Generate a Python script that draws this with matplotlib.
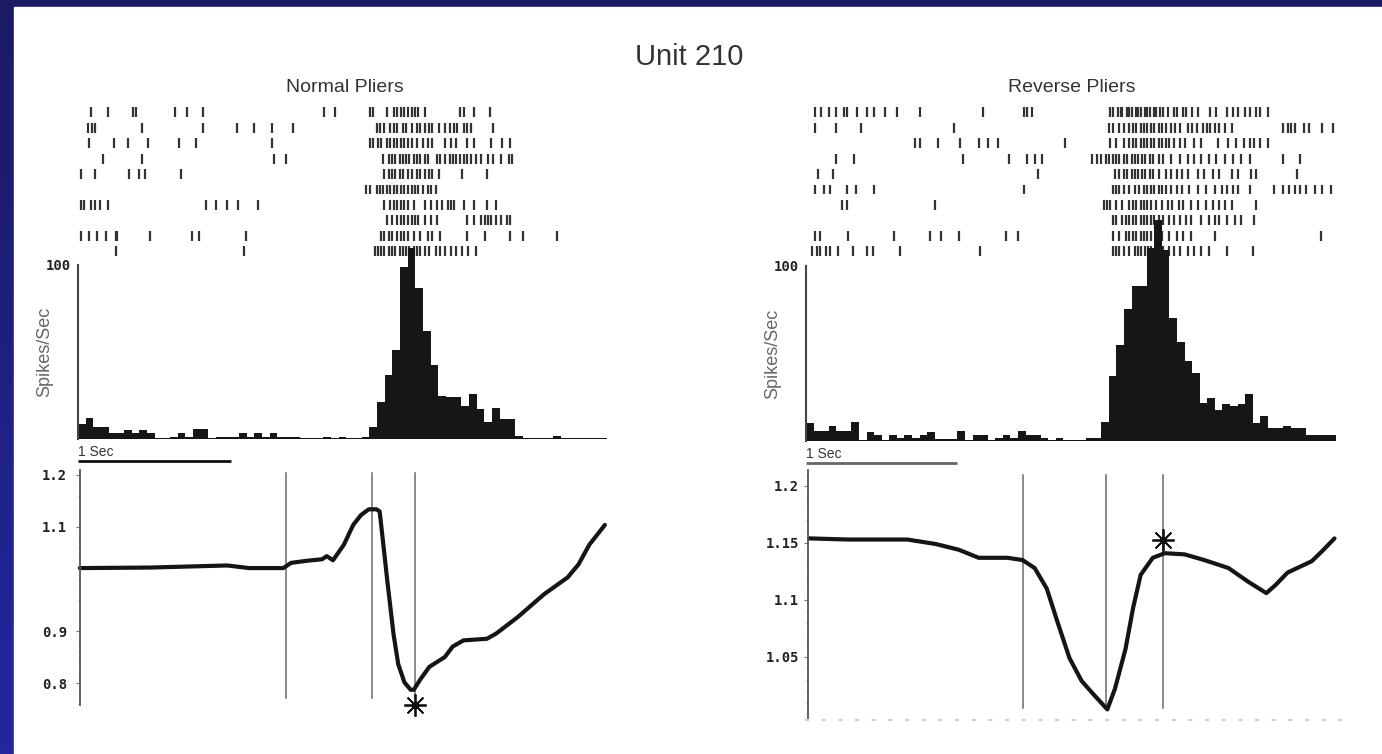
import numpy as np
import matplotlib
matplotlib.use("Agg")
import matplotlib.pyplot as plt
from matplotlib.colors import LinearSegmentedColormap
from matplotlib.patches import Rectangle
from matplotlib.ticker import MultipleLocator

W, H = 1382, 754

# ---- data -------------------------------------------------------------
# spike times (s) per trial, row 1 = top
raster_normal = [
    [0.12, 0.23, 0.39, 0.41, 0.66, 0.74, 0.84, 1.62, 1.69, 1.92, 1.94, 2.03, 2.07, 2.09, 2.12,
     2.14, 2.16, 2.19, 2.21, 2.23, 2.27, 2.50, 2.52, 2.59, 2.69],
    [0.10, 0.13, 0.15, 0.45, 0.84, 1.06, 1.17, 1.29, 1.42, 1.96, 1.98, 2.01, 2.05, 2.07, 2.09,
     2.13, 2.15, 2.19, 2.22, 2.24, 2.27, 2.30, 2.32, 2.36, 2.40, 2.43, 2.46, 2.48, 2.52, 2.54,
     2.57, 2.71],
    [0.11, 0.27, 0.36, 0.49, 0.69, 0.80, 1.29, 1.92, 1.94, 1.97, 1.99, 2.03, 2.05, 2.07, 2.09,
     2.12, 2.14, 2.16, 2.19, 2.22, 2.26, 2.29, 2.32, 2.40, 2.44, 2.47, 2.54, 2.59, 2.70, 2.77,
     2.82],
    [0.20, 0.45, 1.30, 1.38, 2.00, 2.04, 2.06, 2.08, 2.11, 2.13, 2.15, 2.17, 2.20, 2.22, 2.24,
     2.27, 2.29, 2.35, 2.37, 2.40, 2.43, 2.45, 2.47, 2.50, 2.52, 2.54, 2.57, 2.60, 2.63, 2.68,
     2.71, 2.76, 2.81, 2.83],
    [0.06, 0.15, 0.37, 0.43, 0.47, 0.70, 2.01, 2.04, 2.06, 2.08, 2.11, 2.13, 2.16, 2.19, 2.22,
     2.24, 2.27, 2.30, 2.32, 2.36, 2.51, 2.67],
    [1.89, 1.92, 1.96, 1.98, 2.00, 2.03, 2.05, 2.07, 2.09, 2.12, 2.14, 2.16, 2.19, 2.21, 2.23,
     2.26, 2.29, 2.31, 2.34],
    [0.06, 0.08, 0.12, 0.15, 0.18, 0.23, 0.86, 0.93, 1.00, 1.07, 1.20, 2.01, 2.05, 2.07, 2.09,
     2.12, 2.14, 2.16, 2.20, 2.27, 2.31, 2.35, 2.38, 2.42, 2.44, 2.46, 2.52, 2.59, 2.67, 2.73],
    [2.03, 2.06, 2.09, 2.12, 2.14, 2.16, 2.19, 2.21, 2.23, 2.27, 2.31, 2.35, 2.54, 2.59, 2.63,
     2.66, 2.68, 2.70, 2.73, 2.76, 2.80, 2.82],
    [0.06, 0.11, 0.16, 0.22, 0.28, 0.29, 0.50, 0.77, 0.82, 1.12, 1.99, 2.01, 2.04, 2.06, 2.09,
     2.12, 2.14, 2.16, 2.20, 2.24, 2.29, 2.32, 2.37, 2.54, 2.66, 2.82, 2.90, 3.12],
    [0.28, 1.11, 1.95, 1.97, 1.99, 2.01, 2.04, 2.06, 2.08, 2.11, 2.13, 2.15, 2.17, 2.20, 2.22,
     2.24, 2.27, 2.30, 2.34, 2.37, 2.40, 2.44, 2.47, 2.51, 2.55, 2.60],
]

raster_reverse = [
    [0.06, 0.10, 0.15, 0.20, 0.25, 0.27, 0.34, 0.40, 0.45, 0.52, 0.60, 0.75, 1.17, 1.44, 1.46,
     1.49, 2.01, 2.03, 2.06, 2.08, 2.09, 2.12, 2.13, 2.15, 2.18, 2.19, 2.21, 2.24, 2.25, 2.27,
     2.30, 2.31, 2.34, 2.36, 2.39, 2.43, 2.45, 2.49, 2.51, 2.55, 2.59, 2.67, 2.71, 2.78, 2.82,
     2.85, 2.90, 2.93, 2.97, 3.00, 3.05],
    [0.06, 0.20, 0.36, 0.98, 2.00, 2.03, 2.07, 2.10, 2.13, 2.16, 2.18, 2.21, 2.23, 2.25, 2.28,
     2.30, 2.33, 2.35, 2.38, 2.41, 2.44, 2.47, 2.52, 2.55, 2.58, 2.62, 2.65, 2.67, 2.70, 2.73,
     2.77, 2.81, 3.15, 3.18, 3.20, 3.23, 3.29, 3.32, 3.41, 3.48],
    [0.72, 0.75, 0.87, 1.02, 1.14, 1.20, 1.27, 1.71, 2.01, 2.05, 2.10, 2.13, 2.16, 2.18, 2.21,
     2.23, 2.25, 2.28, 2.30, 2.33, 2.35, 2.38, 2.40, 2.43, 2.47, 2.50, 2.56, 2.61, 2.72, 2.79,
     2.84, 2.89, 2.93, 2.96, 3.00, 3.05],
    [0.20, 0.32, 1.04, 1.34, 1.46, 1.51, 1.56, 1.89, 1.92, 1.95, 1.98, 2.00, 2.03, 2.05, 2.07,
     2.10, 2.12, 2.15, 2.17, 2.19, 2.22, 2.24, 2.27, 2.29, 2.33, 2.36, 2.41, 2.47, 2.52, 2.56,
     2.61, 2.66, 2.71, 2.77, 2.82, 2.87, 2.93, 3.15, 3.26],
    [0.08, 0.18, 1.53, 2.04, 2.07, 2.10, 2.12, 2.15, 2.17, 2.19, 2.22, 2.24, 2.27, 2.29, 2.33,
     2.38, 2.41, 2.45, 2.48, 2.52, 2.59, 2.63, 2.69, 2.73, 2.81, 2.85, 2.94, 2.97, 3.24],
    [0.06, 0.12, 0.16, 0.27, 0.33, 0.45, 1.44, 2.03, 2.05, 2.07, 2.10, 2.13, 2.17, 2.20, 2.23,
     2.25, 2.28, 2.30, 2.33, 2.35, 2.38, 2.41, 2.45, 2.48, 2.53, 2.59, 2.64, 2.70, 2.75, 2.78,
     2.82, 2.85, 2.93, 3.09, 3.15, 3.19, 3.23, 3.26, 3.30, 3.36, 3.41, 3.47],
    [0.24, 0.27, 0.85, 1.97, 1.99, 2.01, 2.05, 2.09, 2.13, 2.16, 2.18, 2.21, 2.23, 2.25, 2.28,
     2.31, 2.35, 2.39, 2.42, 2.46, 2.49, 2.54, 2.59, 2.64, 2.69, 2.73, 2.77, 2.81, 2.97],
    [2.03, 2.05, 2.09, 2.11, 2.13, 2.16, 2.18, 2.21, 2.23, 2.25, 2.28, 2.30, 2.33, 2.36, 2.40,
     2.43, 2.47, 2.51, 2.54, 2.61, 2.66, 2.70, 2.73, 2.78, 2.83, 2.87, 2.96],
    [0.06, 0.09, 0.28, 0.58, 0.82, 0.89, 1.01, 1.32, 1.40, 2.03, 2.07, 2.11, 2.13, 2.16, 2.18,
     2.21, 2.23, 2.25, 2.28, 2.31, 2.35, 2.40, 2.45, 2.49, 2.54, 2.70, 3.40],
    [0.04, 0.07, 0.09, 0.13, 0.16, 0.21, 0.31, 0.40, 0.44, 0.62, 1.15, 2.03, 2.05, 2.07, 2.10,
     2.13, 2.17, 2.19, 2.21, 2.24, 2.26, 2.28, 2.32, 2.36, 2.40, 2.43, 2.47, 2.52, 2.56, 2.61,
     2.66, 2.78, 2.95],
]

# firing rate (spikes/s), 50 ms bins
bin_width = 0.05
rate_normal = [8.6, 12.3, 7.1, 7.1, 3.3, 3.3, 5.2, 3.3, 5.2, 3.3,
               0.5, 0.5, 1.3, 3.3, 1.3, 5.6, 5.6, 0.5, 1.3, 1.3,
               1.3, 3.3, 1.3, 3.3, 1.0, 3.3, 1.3, 1.3, 1.3, 0.5,
               0.5, 0.5, 1.3, 0.5, 1.3, 0.5, 0.5, 1.3, 6.7, 21,
               37, 51, 99, 110, 87, 62, 42.5, 25, 24, 24,
               19, 26, 17, 10, 17.6, 11.3, 11.3, 1.7, 0.5, 0.5,
               0.5, 0.5, 1.7, 0.5, 0.5, 0.5, 0.5, 0.5, 0.5]
rate_reverse = [10.5, 5.7, 5.7, 8.6, 5.7, 5.7, 10.9, 0.6, 5.1, 3.2,
                0.6, 3.6, 1.9, 3.6, 1.9, 3.6, 5.1, 1.0, 1.0, 1.0,
                5.5, 0.6, 3.6, 3.6, 0.6, 1.9, 3.6, 1.9, 5.5, 3.6,
                3.6, 1.9, 0.6, 1.9, 0.6, 0.6, 0.6, 1.7, 1.7, 10.9,
                37, 54.7, 75.6, 88.6, 88.6, 110, 126, 109, 70.5, 56.6,
                45.7, 39, 21.5, 24.6, 17.5, 21.3, 20, 21.3, 26.7, 10.5,
                14.3, 7.6, 7.6, 8.6, 7.6, 7.6, 3.4, 3.4, 3.4, 3.4]

# aperture trace
trace_normal_t = [0.05, 0.50, 1.00, 1.14, 1.36, 1.41, 1.51, 1.61, 1.64, 1.68, 1.75, 1.81,
                  1.86, 1.91, 1.96, 1.98, 1.99, 2.03, 2.07, 2.10, 2.14, 2.18, 2.20, 2.24,
                  2.30, 2.40, 2.45, 2.52, 2.67, 2.73, 2.87, 3.04, 3.19, 3.26, 3.33, 3.43]
trace_normal_v = [1.021, 1.022, 1.026, 1.021, 1.021, 1.031, 1.035, 1.038, 1.044, 1.036, 1.066, 1.104,
                  1.123, 1.134, 1.134, 1.130, 1.104, 0.995, 0.893, 0.836, 0.801, 0.787, 0.787, 0.806,
                  0.831, 0.850, 0.870, 0.882, 0.885, 0.895, 0.927, 0.971, 1.003, 1.028, 1.066, 1.104]
trace_reverse_t = [0.02, 0.28, 0.67, 0.86, 1.01, 1.14, 1.33, 1.43, 1.51, 1.59, 1.66, 1.74,
                   1.82, 1.90, 1.99, 2.04, 2.11, 2.16, 2.21, 2.29, 2.37, 2.50, 2.63, 2.79,
                   2.92, 3.04, 3.10, 3.18, 3.26, 3.34, 3.41, 3.49]
trace_reverse_v = [1.154, 1.153, 1.153, 1.149, 1.144, 1.137, 1.137, 1.135, 1.128, 1.110, 1.081, 1.049,
                   1.029, 1.017, 1.004, 1.022, 1.057, 1.093, 1.122, 1.137, 1.141, 1.140, 1.135, 1.128,
                   1.116, 1.106, 1.113, 1.124, 1.129, 1.134, 1.143, 1.154]

events_normal = [1.38, 1.93, 2.21]
events_reverse = [1.43, 1.98, 2.36]
star_normal = (2.21, 0.758)
star_reverse = (2.36, 1.153)

ticks_normal = [0.8, 0.9, 1.1, 1.2]
ticks_reverse = [1.05, 1.1, 1.15, 1.2]
ticklabels_reverse = ["1.05", "1.1", "1.15", "1.2"]

# ---- figure -----------------------------------------------------------
fig = plt.figure(figsize=(W / 100, H / 100), dpi=100)


def px_axes(x0, y0, x1, y1):
    return fig.add_axes([x0 / W, 1 - y1 / H, (x1 - x0) / W, (y1 - y0) / H])


def fig_text(x, y, s, **kw):
    fig.text(x / W, 1 - y / H, s, **kw)


# blue frame + white slide
bg = fig.add_axes([0, 0, 1, 1])
blues = LinearSegmentedColormap.from_list("frame", ["#1b1a62", "#2227a0"])
bg.imshow(np.linspace(0, 1, 64).reshape(-1, 1), aspect="auto", cmap=blues,
          extent=[0, 1, 0, 1], origin="upper")
bg.add_patch(Rectangle((14 / W, 0), 1 - 14 / W, 1 - 7 / H, color="white"))
bg.set_xlim(0, 1)
bg.set_ylim(0, 1)
bg.axis("off")

SANS = "Liberation Sans"
MONO = "DejaVu Sans Mono"

fig_text(689, 57, "Unit 210", ha="center", va="center", fontsize=21, family=SANS, color="#333333")


def raster_panel(x0, x1, xmax, trials):
    ax = px_axes(x0, 104.5, x1, 259)
    ax.eventplot(trials, lineoffsets=np.arange(1, len(trials) + 1), linelengths=0.64,
                 linewidths=1.6, colors="#333333")
    ax.set_xlim(0, xmax)
    ax.set_ylim(len(trials) + 0.5, 0.5)
    ax.axis("off")
    return ax


def hist_panel(x0, x1, y0, y1, rates, bar_color, label_x):
    ax = px_axes(x0, y0, x1, y1)
    ax.patch.set_alpha(0)
    n = len(rates)
    left_edges = np.arange(n) * bin_width
    ax.bar(left_edges, rates, width=bin_width, align="edge", color="#161616",
           edgecolor="none", clip_on=False)
    ax.set_xlim(0, n * bin_width)
    ax.set_ylim(0, 100)
    for s in ["top", "right", "bottom"]:
        ax.spines[s].set_visible(False)
    ax.spines["left"].set_color("#444444")
    ax.spines["left"].set_linewidth(1.5)
    ax.set_xticks([])
    ax.set_yticks([100])
    ax.set_yticklabels(["100"], family=MONO, fontweight="bold", fontsize=10, color="#222222")
    ax.tick_params(axis="y", length=0, pad=5)
    ax.set_ylabel("Spikes/Sec", family=SANS, fontsize=13, color="#666666", labelpad=2)
    ax.yaxis.set_label_coords(label_x, 0.5)
    # 1 sec scale bar
    ax.plot([0, 1.0], [-12.5, -12.5], color=bar_color, lw=2, clip_on=False, solid_capstyle="butt")
    ax.text(0.0, -3.5, "1 Sec", ha="left", va="top", family=SANS, fontsize=10, color="#333333")
    return ax


def trace_panel(x0, x1, y0, y1, xmax, ylim, t, v, events, ev_span, star, ticks, labels,
                minor, pad, spine_t, dotted_base):
    ax = px_axes(x0, y0, x1, y1)
    ax.patch.set_alpha(0)
    for e in events:
        ax.axvline(e, ymin=ev_span[0], ymax=ev_span[1], color="#6a6a6a", lw=1.1)
    ax.plot(t, v, color="#151515", lw=3.0, solid_joinstyle="round", solid_capstyle="round")
    ax.plot(*star, marker=(8, 2, 0), ms=16, mew=1.3, color="#111111", clip_on=False)
    ax.plot(*star, marker="o", ms=4.5, color="#111111", clip_on=False)
    ax.set_xlim(0, xmax)
    ax.set_ylim(*ylim)
    ax.spines["top"].set_visible(False)
    ax.spines["right"].set_visible(False)
    ax.spines["left"].set_position(("data", spine_t))
    ax.spines["left"].set_color("#555555")
    ax.spines["left"].set_linewidth(1.3)
    if dotted_base:
        ax.spines["bottom"].set_linestyle((0, (1, 7)))
        ax.spines["bottom"].set_color("#d0d0d0")
        ax.spines["bottom"].set_linewidth(1.5)
    else:
        ax.spines["bottom"].set_visible(False)
    ax.set_xticks([])
    ax.set_yticks(ticks)
    ax.set_yticklabels(labels, family=MONO, fontweight="bold", fontsize=10, color="#222222")
    ax.yaxis.set_minor_locator(MultipleLocator(minor))
    ax.tick_params(axis="y", which="major", direction="out", length=3, width=0.8,
                   color="#777777", pad=pad)
    ax.tick_params(axis="y", which="minor", direction="out", length=1.5, width=0.6,
                   color="#aaaaaa")
    return ax


# ---- Normal Pliers (left) -----------------------------------------------
fig_text(345, 87, "Normal Pliers", ha="center", va="center", fontsize=14, family=SANS, color="#333333")
raster_panel(72, 608, 3.45, raster_normal)
hist_panel(78, 607, 265, 439, rate_normal, "#111111", -0.047)
trace_panel(72, 608, 470, 705, 3.45, (0.7577, 1.2096), trace_normal_t, trace_normal_v,
            events_normal, (0.03, 0.987), star_normal, ticks_normal,
            ["0.8", "0.9", "1.1", "1.2"], 0.02, 6, 0.05, False)

# ---- Reverse Pliers (right) ---------------------------------------------
fig_text(1072, 87, "Reverse Pliers", ha="center", va="center", fontsize=14, family=SANS, color="#333333")
raster_panel(806, 1336, 3.5, raster_reverse)
hist_panel(806, 1336, 266, 441, rate_reverse, "#666666", -0.047)
trace_panel(806, 1345, 470, 720, 3.5 * 539 / 530, (0.9947, 1.214), trace_reverse_t, trace_reverse_v,
            events_reverse, (0.048, 0.98), star_reverse, ticks_reverse,
            ticklabels_reverse, 0.01, 3.5, 0.013, True)

fig.savefig("out.png", dpi=100)
